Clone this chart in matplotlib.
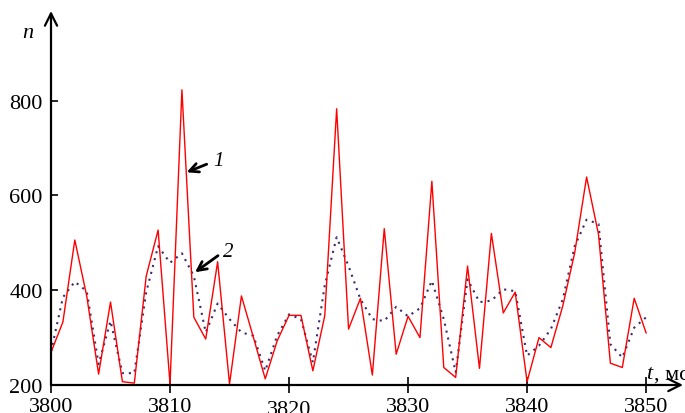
import numpy as np
import matplotlib
matplotlib.use('Agg')
import matplotlib.pyplot as plt

plt.rcParams['font.family'] = ['Liberation Serif', 'DejaVu Serif']

t = np.arange(3800, 3851)
n_raw = [269, 333, 506, 388, 223, 375, 207, 204, 430, 527,
         202, 823, 343, 297, 460, 202, 388, 301, 213, 293,
         347, 347, 230, 346, 783, 318, 383, 221, 530, 265,
         345, 300, 630, 237, 216, 451, 235, 520, 352, 396,
         207, 300, 279, 367, 479, 639, 518, 246, 237, 383,
         310]
n_smooth = [270, 385, 418, 398, 244, 335, 225, 225, 396, 493,
            458, 478, 430, 311, 372, 339, 311, 304, 230, 304,
            349, 339, 248, 410, 512, 451, 381, 339, 335, 365,
            345, 362, 420, 339, 227, 423, 375, 378, 402, 398,
            262, 283, 318, 381, 493, 549, 540, 286, 258, 321,
            343]
xticks = [3800, 3810, 3820, 3830, 3840, 3850]
yticks = [200, 400, 600, 800]

fig = plt.figure(figsize=(6.85, 4.14), dpi=100)
ax = fig.add_axes([51/685, 28/414, 632/685, 374/414])

ax.plot(t, n_raw, color='#ff0000', lw=1.0, clip_on=False, zorder=3)
ax.plot(t, n_smooth, color='#3c2a6e', lw=1.5, linestyle=(0, (1.0, 2.4)),
        clip_on=False, zorder=2)

ax.set_xlim(3800, 3853.1)
ax.set_ylim(200, 989.4)
for s in ax.spines.values():
    s.set_visible(False)

# axes with arrow heads
ax.annotate('', xy=(1, 0), xytext=(0, 0), xycoords='axes fraction',
            arrowprops=dict(arrowstyle='->', lw=1.6, color='black',
                            mutation_scale=22, shrinkA=0, shrinkB=0))
ax.annotate('', xy=(0, 1), xytext=(0, 0), xycoords='axes fraction',
            arrowprops=dict(arrowstyle='->', lw=1.6, color='black',
                            mutation_scale=22, shrinkA=0, shrinkB=0))

ax.set_xticks(xticks)
ax.set_yticks(yticks)
ax.tick_params(axis='x', direction='inout', length=11, width=1.2,
               labelsize=16, pad=3.5)
ax.tick_params(axis='y', direction='in', length=5, width=1.2,
               labelsize=16, pad=6)
for lab in ax.get_xticklabels():
    if lab.get_text() == '3820':
        lab.set_y(-0.006)

# curve labels
ax.annotate('', xy=(3811.40, 649), xytext=(3813.08, 666),
            arrowprops=dict(arrowstyle='->', lw=2.0, color='black',
                            mutation_scale=16, shrinkA=0, shrinkB=0))
ax.text(3813.6, 673, '1', fontsize=15, style='italic', ha='left', va='center')
ax.annotate('', xy=(3812.10, 438), xytext=(3814.03, 473),
            arrowprops=dict(arrowstyle='->', lw=2.0, color='black',
                            mutation_scale=16, shrinkA=0, shrinkB=0))
ax.text(3814.45, 481, '2', fontsize=15, style='italic', ha='left', va='center')

fig.text(28/685, 1 - 33/414, 'n', fontsize=16, style='italic',
         ha='center', va='center')
fig.text(646/685, 1 - 375/414, 't', fontsize=16, style='italic',
         ha='left', va='center')
fig.text(654/685, 1 - 375/414, ', мс', fontsize=16, ha='left', va='center')

fig.savefig('out.png', dpi=100)
